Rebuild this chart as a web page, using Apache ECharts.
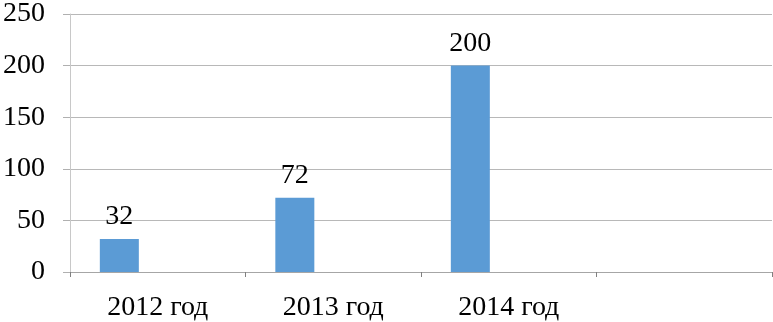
<!DOCTYPE html>
<html><head><meta charset="utf-8">
<script src="https://cdn.jsdelivr.net/npm/echarts@6/dist/echarts.min.js"></script>
<style>html,body{margin:0;padding:0;background:#fff}#c{width:773px;height:322px}</style>
</head><body><div id="c"></div>
<script>
const categories = ['2012 год', '2013 год', '2014 год', ''];
const values = [32, 72, 200, null];
const emptySeries = [null, null, null, null];
const yTicks = {min: 0, max: 250, interval: 50};

const chart = echarts.init(document.getElementById('c'));
const font = '"Liberation Serif", "Times New Roman", serif';
chart.setOption({
  animation: false,
  grid: {left: 67, right: 1, top: 11, bottom: 49, containLabel: false},
  xAxis: {
    type: 'category', data: categories, boundaryGap: true,
    axisLine: {lineStyle: {color: '#a6a6a6', width: 1}},
    axisTick: {show: true, length: 5, alignWithLabel: false, lineStyle: {color: '#808080'}},
    axisLabel: {color: '#000', fontFamily: font, fontSize: 28, margin: 22}
  },
  yAxis: {
    type: 'value', min: yTicks.min, max: yTicks.max, interval: yTicks.interval,
    axisLine: {show: true, lineStyle: {color: '#c8c8c8'}},
    axisTick: {show: true, length: 7, lineStyle: {color: '#b0b0b0'}},
    splitLine: {lineStyle: {color: '#b8b8b8'}},
    axisLabel: {color: '#000', fontFamily: font, fontSize: 28, margin: 25}
  },
  series: [
    {type: 'bar', data: values, barWidth: 39, barGap: '97%',
     itemStyle: {color: '#5b9bd5'},
     label: {show: true, position: 'top', distance: 8, color: '#000', fontFamily: font, fontSize: 28}},
    {type: 'bar', data: emptySeries, barWidth: 39, itemStyle: {color: '#ed7d31'}}
  ]
});
</script></body></html>
